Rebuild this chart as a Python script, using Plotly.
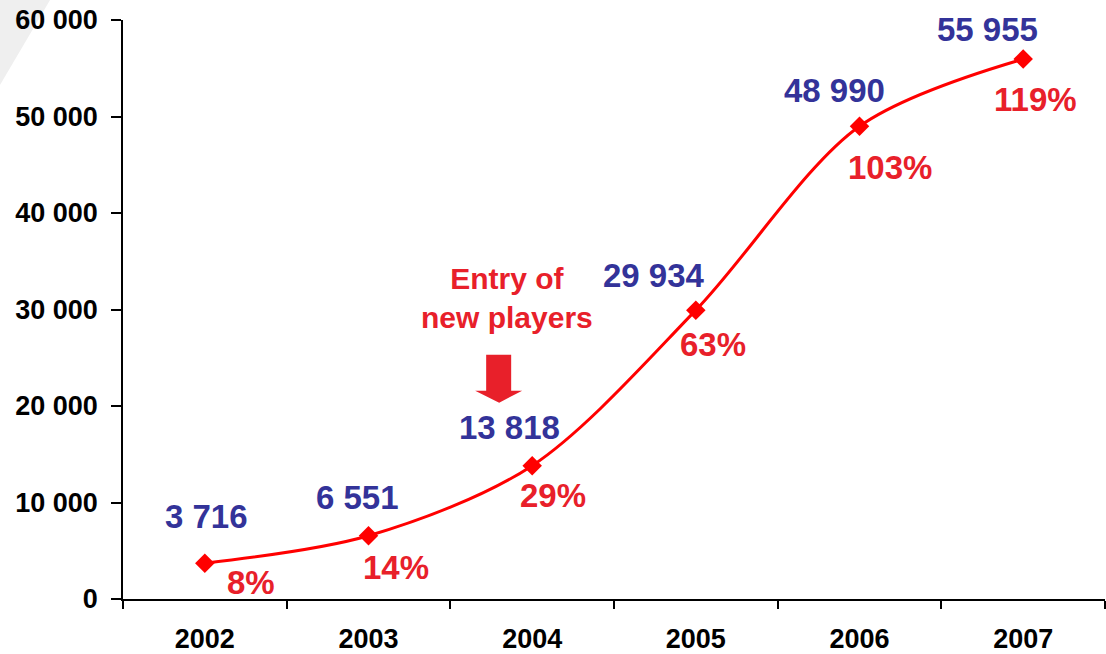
import plotly.graph_objects as go

# Subscribers per year and year-on-year penetration labels
years = ["2002", "2003", "2004", "2005", "2006", "2007"]
subscribers = [3716, 6551, 13818, 29934, 48990, 55955]
penetration = ["8%", "14%", "29%", "63%", "103%", "119%"]
y_ticks = [0, 10000, 20000, 30000, 40000, 50000, 60000]

FONT = "Arial, Liberation Sans, sans-serif"
BLUE = "#333399"
RED_TEXT = "#e8202a"
RED_LINE = "#ff0000"


def fmt(v):
    return f"{v:,}".replace(",", " ")


fig = go.Figure()
fig.add_trace(go.Scatter(
    x=years, y=subscribers, mode="lines+markers",
    line=dict(color=RED_LINE, width=3, shape="spline", smoothing=0.9),
    marker=dict(symbol="diamond", size=15, color=RED_LINE),
    hoverinfo="skip", showlegend=False,
))

# label offsets (pixels) around each point
value_shift = [(2, 47), (-11, 38), (-23, 38), (-42, 35), (-25, 36), (-36, 30)]
pct_shift = [(46, -19), (27, -32), (21, -30), (17, -34), (30, -41), (12, -40)]

annotations = []
for i, (v, p, vs, ps) in enumerate(zip(subscribers, penetration, value_shift, pct_shift)):
    annotations.append(dict(
        x=i, y=v, xref="x", yref="y", text="<b>" + fmt(v) + "</b>", showarrow=False,
        xshift=vs[0], yshift=vs[1],
        font=dict(family=FONT, size=33, color=BLUE),
    ))
    annotations.append(dict(
        x=i, y=v, xref="x", yref="y", text="<b>" + p + "</b>", showarrow=False,
        xshift=ps[0], yshift=ps[1],
        font=dict(family=FONT, size=33, color=RED_TEXT),
    ))

# callout above 2004
annotations.append(dict(
    x=2, y=subscribers[2], xref="x", yref="y",
    text="<b>Entry of<br>new players</b>", showarrow=False,
    xshift=-25, yshift=168, align="center",
    font=dict(family=FONT, size=30, color=RED_TEXT),
))

shapes = [
    # block arrow pointing down toward the 2004 point
    dict(
        type="path", xref="x", yref="y",
        xsizemode="pixel", ysizemode="pixel",
        xanchor=2, yanchor=subscribers[2],
        path="M -46 111 L -21 111 L -21 75 L -10 75 L -33 63 L -57 75 L -46 75 Z",
        fillcolor=RED_TEXT, line=dict(width=0),
    ),
    # faint swoosh in the top-left corner
    dict(
        type="path", xref="paper", yref="paper",
        path="M -0.1253 1.0345 L -0.0743 1.0345 L -0.1253 0.8877 Z",
        fillcolor="#efefef", line=dict(width=0), layer="below",
    ),
]

fig.update_layout(
    width=1106, height=654,
    margin=dict(l=123, r=1, t=20, b=55),
    paper_bgcolor="white", plot_bgcolor="white",
    font=dict(family=FONT, color="black"),
    annotations=annotations, shapes=shapes,
    xaxis=dict(
        type="category", range=[-0.5, 5.5],
        showline=True, linecolor="black", linewidth=1.5,
        ticks="outside", tickson="boundaries", ticklen=8, tickwidth=1.5,
        tickcolor="black", showgrid=False, zeroline=False,
        tickfont=dict(family=FONT, size=27, color="black", weight="bold"),
        ticklabelstandoff=15,
    ),
    yaxis=dict(
        range=[0, 60000], tickvals=y_ticks,
        ticktext=[fmt(t) for t in y_ticks],
        showline=True, linecolor="black", linewidth=1.5,
        ticks="outside", ticklen=10, tickwidth=1.5, tickcolor="black",
        showgrid=False, zeroline=False,
        tickfont=dict(family=FONT, size=27, color="black", weight="bold"),
        ticklabelstandoff=8,
    ),
)

fig.write_html("out.html")
